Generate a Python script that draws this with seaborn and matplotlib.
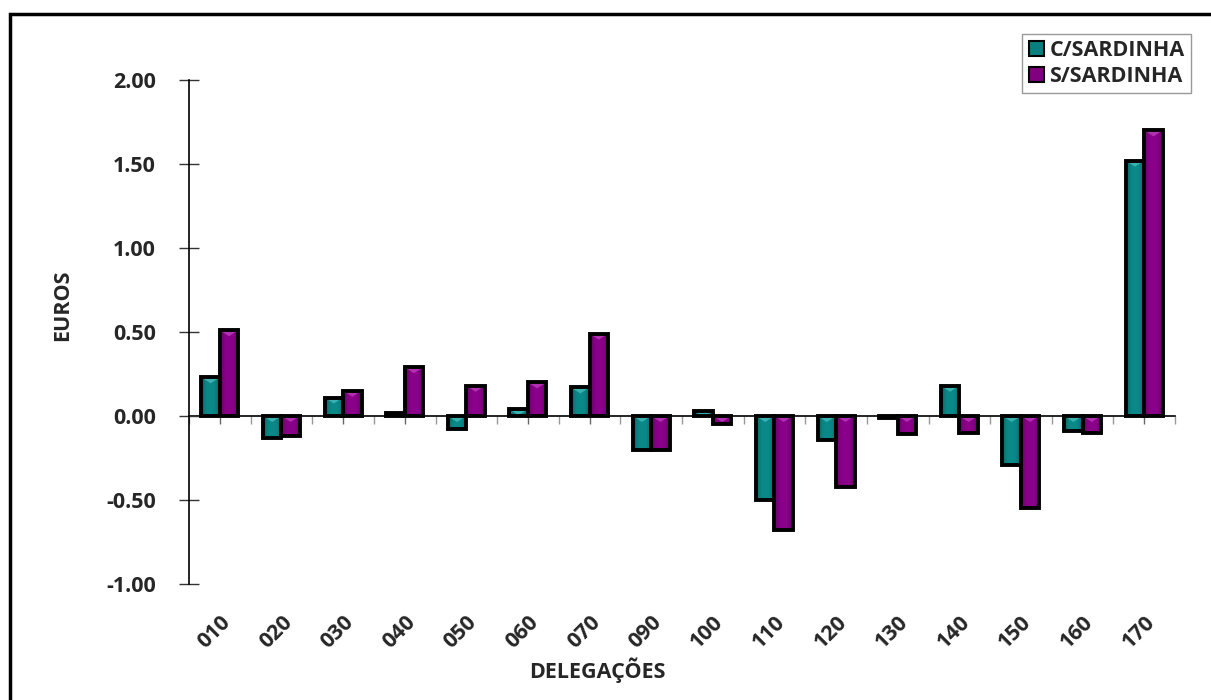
import numpy as np
import pandas as pd
import matplotlib
matplotlib.use("Agg")
import matplotlib.pyplot as plt
import seaborn as sns
from matplotlib.patches import Rectangle, Polygon, Patch
from matplotlib.colors import to_rgb

# ---------------- data ----------------
categories = ['010', '020', '030', '040', '050', '060', '070', '090',
              '100', '110', '120', '130', '140', '150', '160', '170']
c_sardinha = [0.23, -0.13, 0.11, 0.02, -0.08, 0.04, 0.17, -0.20,
              0.03, -0.50, -0.14, -0.01, 0.18, -0.29, -0.09, 1.52]
s_sardinha = [0.51, -0.12, 0.15, 0.29, 0.18, 0.20, 0.49, -0.20,
              -0.05, -0.68, -0.42, -0.11, -0.10, -0.55, -0.10, 1.70]
series_names = ['C/SARDINHA', 'S/SARDINHA']
y_ticks = [-1.0, -0.5, 0.0, 0.5, 1.0, 1.5, 2.0]

base_colors = ['#0a7f7f', '#800080']
light_colors = ['#3cb0b0', '#b030b0']

df = pd.DataFrame({
    'DELEGAÇÕES': categories * 2,
    'EUROS': c_sardinha + s_sardinha,
    'serie': [series_names[0]] * len(categories) + [series_names[1]] * len(categories),
})

# ---------------- style ----------------
sns.set_theme(style='white')
FONT = ['Open Sans', 'DejaVu Sans']
plt.rcParams['font.family'] = FONT
plt.rcParams['font.weight'] = 'bold'
FS = 15.5

fig = plt.figure(figsize=(12.11, 7.0), dpi=100)
W, H = 1211, 700
ax = fig.add_axes([189 / W, 1 - 584 / H, (1175 - 189) / W, (584 - 80) / H])

sns.barplot(data=df, x='DELEGAÇÕES', y='EUROS', hue='serie', order=categories,
            hue_order=series_names, palette=base_colors, width=0.6,
            edgecolor='black', linewidth=2.8, legend=False, ax=ax, zorder=2)

ymin, ymax = -1.0, 2.0
ax.set_ylim(ymin, ymax)
ax.set_xlim(-0.5, len(categories) - 0.5)

# bevel / gradient look on each bar (derived from the bars' own geometry)
px_per_unit = (584 - 80) / (ymax - ymin)
bevel = 6 / px_per_unit
prof = np.linspace(-1, 1, 64)
shade = 0.62 + 0.38 * (1 - np.abs(prof) ** 3)
for k, cont in enumerate(ax.containers):
    base = np.array(to_rgb(base_colors[k]))
    grad = np.clip(base[None, :] * shade[:, None] * 1.08, 0, 1)
    img = grad[None, :, :]
    for p in cont.patches:
        x0, y0 = p.get_x(), p.get_y()
        w, h = p.get_width(), p.get_height()
        lo, hi = min(y0, y0 + h), max(y0, y0 + h)
        im = ax.imshow(img, extent=[x0, x0 + w, lo, hi], aspect='auto',
                       origin='lower', zorder=1.8, interpolation='bilinear')
        im.set_clip_path(p)
        tri = Polygon([[x0, hi], [x0 + w, hi], [x0 + w / 2, hi - bevel]],
                      closed=True, facecolor=light_colors[k], edgecolor='none',
                      zorder=1.9)
        ax.add_patch(tri)
        tri.set_clip_path(p)
        p.set_facecolor('none')

ax.set_ylim(ymin, ymax)
ax.set_xlim(-0.5, len(categories) - 0.5)
ax.set_aspect('auto')

# y axis
ax.set_yticks(y_ticks)
ax.set_yticklabels([f'{v:.2f}' for v in y_ticks], fontsize=FS, fontweight='bold')
ax.tick_params(axis='y', direction='inout', length=14, width=1, color='#333333',
               pad=17, left=True)
for s in ['top', 'right', 'bottom']:
    ax.spines[s].set_visible(False)
ax.spines['left'].set_color('black')
ax.spines['left'].set_linewidth(1.2)

# x tick labels at the bottom
ax.set_xticks(range(len(categories)))
ax.set_xticklabels(categories, fontsize=FS, fontweight='bold', rotation=45,
                   ha='right', rotation_mode='anchor')
ax.tick_params(axis='x', length=0, pad=20)

# zero line with its ticks
sec = ax.secondary_xaxis((0 - ymin) / (ymax - ymin))
sec.set_xticks(range(len(categories)))
sec.set_xticks(np.arange(len(categories) + 1) - 0.5, minor=True)
sec.tick_params(which='both', direction='out', length=6, width=1,
                labelbottom=False, labeltop=False)
sec.tick_params(which='major', color='#666666')
sec.tick_params(which='minor', color='#999999')
sec.spines['bottom'].set_color('black')
sec.spines['bottom'].set_linewidth(1.2)

# labels
ax.set_ylabel('EUROS', fontsize=FS, fontweight='bold')
ax.yaxis.set_label_coords(-0.1175, 0.553)
ax.set_xlabel('DELEGAÇÕES', fontsize=FS, fontweight='bold')
ax.xaxis.set_label_coords(0.414, -0.145)

# legend
handles = [Patch(facecolor=c, edgecolor='black', linewidth=1.5) for c in base_colors]
leg = fig.legend(handles, series_names, loc='upper right',
                 bbox_to_anchor=(1191 / W, 1 - 34 / H),
                 prop={'family': FONT, 'weight': 'bold', 'size': FS},
                 frameon=True, fancybox=False, edgecolor='#808080',
                 handlelength=0.7, handleheight=0.7, handletextpad=0.25,
                 labelspacing=0.2, borderpad=0.3, borderaxespad=0)
leg.get_frame().set_linewidth(1.0)

# outer chart border
fig.patches.append(Rectangle((10 / W, -0.05), 1.2, 1 - 14 / H + 0.05,
                             transform=fig.transFigure, fill=False,
                             edgecolor='black', linewidth=2.5, zorder=10))

fig.savefig('out.png', dpi=100, facecolor='white')
